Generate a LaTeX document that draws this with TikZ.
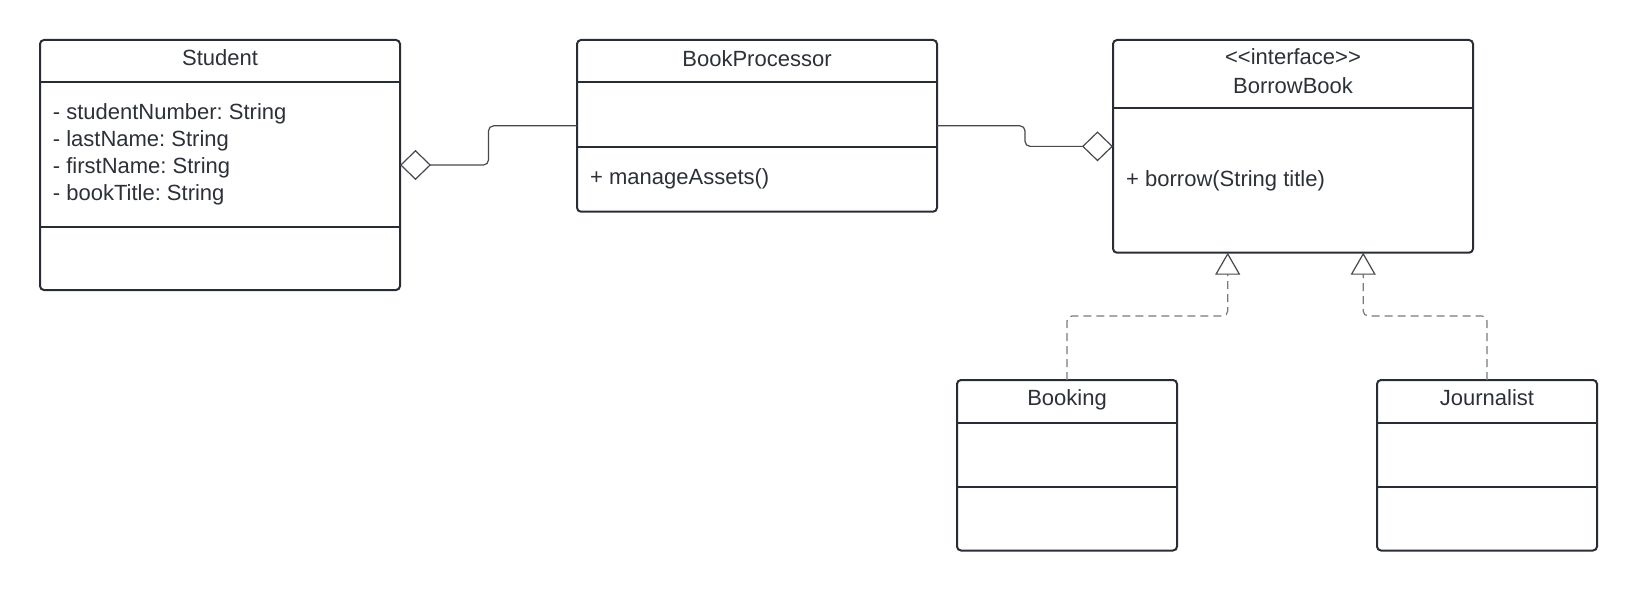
\documentclass[tikz,border=0pt]{standalone}
\usepackage{fontspec}
\setmainfont{Liberation Sans}
\usetikzlibrary{arrows.meta,calc}
\definecolor{boxc}{RGB}{40,44,52}
\definecolor{txtc}{RGB}{44,48,56}
\definecolor{linec}{RGB}{70,72,78}
\definecolor{dashc}{RGB}{120,122,128}
\frenchspacing
\tikzset{
  classbox/.style={draw=boxc, line width=2pt, rounded corners=4pt, outer sep=0pt, inner sep=0pt, anchor=north west},
  divider/.style={draw=boxc, line width=2pt},
  lbl/.style={text=txtc, font=\fontsize{22}{26}\selectfont, inner sep=0pt, anchor=base},
  attr/.style={lbl, anchor=base west},
  conn/.style={draw=linec, line width=1.2pt, rounded corners=5pt},
  real/.style={draw=dashc, line width=1.2pt, dash pattern=on 8pt off 5pt, rounded corners=5pt},
  agg/.style={{Diamond[open, length=31pt, width=30pt, line width=1.2pt, color=linec]}-},
  impl/.style={-{Triangle[open, length=22pt, width=25pt, line width=1.2pt, color=linec]}}
}
\begin{document}
\begin{tikzpicture}[x=1pt,y=1pt]
\useasboundingbox (0,0) rectangle (1637,-591);
% Student
\node[classbox, minimum width=360pt, minimum height=250pt] (student) at (40,-40) {};
\draw[divider] (student.west |- 0,-82.5) -- (student.east |- 0,-82.5);
\draw[divider] (student.west |- 0,-227) -- (student.east |- 0,-227);
\node[lbl] (studentT) at (220,-66) {Student};
\node[attr] (sa1) at (52.7,-120) {- studentNumber: String};
\node[attr] (sa2) at (52.7,-146.7) {- lastName: String};
\node[attr] (sa3) at (52.7,-173.3) {- firstName: String};
\node[attr] (sa4) at (52.7,-200) {- bookTitle: String};
% BookProcessor
\node[classbox, minimum width=360pt, minimum height=171.7pt] (bp) at (577,-40) {};
\draw[divider] (bp.west |- 0,-82.5) -- (bp.east |- 0,-82.5);
\draw[divider] (bp.west |- 0,-147.2) -- (bp.east |- 0,-147.2);
\node[lbl] (bpT) at (757,-66.7) {BookProcessor};
\node[attr] (bpm) at (590,-184.3) {+ manageAssets()};
% BorrowBook
\node[classbox, minimum width=360pt, minimum height=212.7pt] (bb) at (1113,-40) {};
\draw[divider] (bb.west |- 0,-108.5) -- (bb.east |- 0,-108.5);
\node[lbl] (bbS) at (1293,-64.3) {{<}{<}interface{>}{>}};
\node[lbl] (bbT) at (1293,-93.3) {BorrowBook};
\node[attr] (bbm) at (1126,-186.7) {+ borrow(String title)};
% Booking
\node[classbox, minimum width=220pt, minimum height=170.5pt] (booking) at (957,-380) {};
\draw[divider] (booking.west |- 0,-422.7) -- (booking.east |- 0,-422.7);
\draw[divider] (booking.west |- 0,-487) -- (booking.east |- 0,-487);
\node[lbl] (bookingT) at (1067,-405.5) {Booking};
% Journalist
\node[classbox, minimum width=220pt, minimum height=170.5pt] (journ) at (1377,-380) {};
\draw[divider] (journ.west |- 0,-422.7) -- (journ.east |- 0,-422.7);
\draw[divider] (journ.west |- 0,-487) -- (journ.east |- 0,-487);
\node[lbl] (journT) at (1487,-405.5) {Journalist};
% aggregation connectors
\coordinate (m1) at ($(student.east)!0.5!(bp.west)$);
\coordinate (m2) at ($(bp.east)!0.5!(bb.west)$);
\draw[conn, agg] (student.east) -| (m1) |- (bp.west);
\draw[conn, agg] (bb.west) -| (m2) |- (bp.east);
% realization connectors
\coordinate (r1) at ($(bb.south west)!0.3186!(bb.south east)$);
\coordinate (r2) at ($(bb.south west)!0.695!(bb.south east)$);
\draw[real, impl] (booking.north) -- ++(0,64) -| (r1);
\draw[real, impl] (journ.north) -- ++(0,64) -| (r2);
\end{tikzpicture}
\end{document}
